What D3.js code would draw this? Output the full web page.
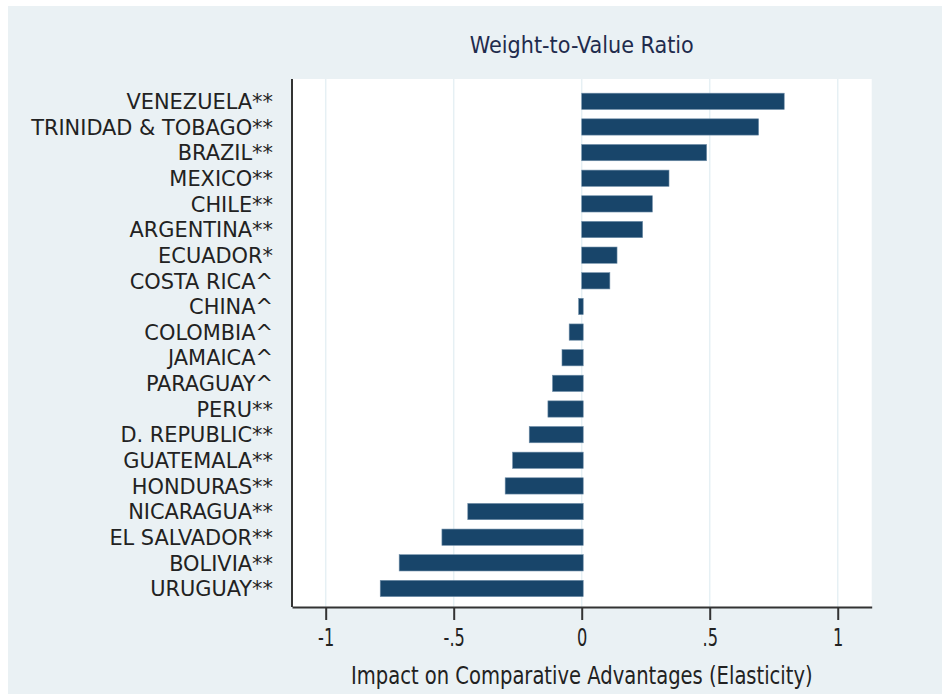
<!DOCTYPE html>
<html><head><meta charset="utf-8">
<script src="https://cdn.jsdelivr.net/npm/d3@7/dist/d3.min.js"></script>
<style>
html,body{margin:0;padding:0;background:#fff;}
svg{display:block;}
text{font-family:"Liberation Sans Narrow","DejaVu Sans Condensed","Liberation Sans",Arial,sans-serif;}
</style></head>
<body>
<svg id="chart" width="942" height="694"></svg>
<script>
const categories = ["VENEZUELA**","TRINIDAD & TOBAGO**","BRAZIL**","MEXICO**","CHILE**","ARGENTINA**","ECUADOR*","COSTA RICA^","CHINA^","COLOMBIA^","JAMAICA^","PARAGUAY^","PERU**","D. REPUBLIC**","GUATEMALA**","HONDURAS**","NICARAGUA**","EL SALVADOR**","BOLIVIA**","URUGUAY**"];
const values = [0.791,0.691,0.488,0.341,0.276,0.238,0.138,0.110,-0.012,-0.049,-0.077,-0.114,-0.132,-0.205,-0.270,-0.299,-0.445,-0.546,-0.713,-0.787];
const xTicks = [-1,-0.5,0,0.5,1];
const xTickLabels = ["-1","-.5","0",".5","1"];
const title = "Weight-to-Value Ratio";
const xTitle = "Impact on Comparative Advantages (Elasticity)";

const svg = d3.select("#chart");
const L = 292, R = 871.7, T = 79, B = 607;

svg.append("rect").attr("x",8).attr("y",6).attr("width",934).attr("height",688).attr("fill","#eaf1f4");
svg.append("rect").attr("x",L).attr("y",T).attr("width",R-L).attr("height",B-T).attr("fill","#ffffff");

const x = d3.scaleLinear().domain([-1.1316,1.1327]).range([L,R]);
const y = d3.scaleBand().domain(categories).range([88.5,601.3]).paddingInner(0.365).paddingOuter(0.1825);

// gridlines
svg.append("g").selectAll("line").data(xTicks).join("line")
  .attr("x1",d=>x(d)).attr("x2",d=>x(d)).attr("y1",T).attr("y2",B)
  .attr("stroke","#e6f0f4").attr("stroke-width",1.5);

// bars
svg.append("g").selectAll("rect").data(values).join("rect")
  .attr("x",d=>x(Math.min(0,d))).attr("width",d=>Math.abs(x(d)-x(0)) + (d<0?1.5:0))
  .attr("y",(d,i)=>y(categories[i])).attr("height",y.bandwidth())
  .attr("fill","#18456a").attr("stroke","#6f8ea8").attr("stroke-width",0.6);

// axes
const xAxis = d3.axisBottom(x).tickValues(xTicks).tickFormat((d,i)=>xTickLabels[i]).tickSize(13).tickPadding(8).tickSizeOuter(0);
const gx = svg.append("g").attr("transform",`translate(0,${B})`).call(xAxis);
gx.attr("font-family",null);
gx.select(".domain").attr("stroke","#333").attr("stroke-width",2);
gx.selectAll(".tick line").attr("stroke","#333").attr("stroke-width",2);
gx.selectAll(".tick text").attr("font-size",25).attr("fill","#222");

const yAxis = d3.axisLeft(y).tickSize(0).tickPadding(19);
const gy = svg.append("g").attr("transform",`translate(${L},0)`).call(yAxis);
gy.attr("font-family",null);
gy.select(".domain").attr("stroke","#333").attr("stroke-width",2).attr("d",`M0,${T}V${B}`);
gy.selectAll(".tick text").attr("font-size",21.5).attr("fill","#222").attr("dy","0.36em");

// horizontal condense to match the narrow face of the reference
function condense(sel, s){
  sel.each(function(){
    const t = d3.select(this);
    const ax = +(t.attr("x")||0);
    t.attr("transform", `translate(${ax*(1-s)},0) scale(${s},1)`);
  });
}
const refW = gy.selectAll(".tick text").nodes()[1].getComputedTextLength();
condense(gy.selectAll(".tick text"), 242/refW);
condense(gx.selectAll(".tick text"), 0.72);

svg.append("text").attr("x",(L+R)/2).attr("y",53).attr("text-anchor","middle")
  .attr("font-size",23).attr("fill","#1f2b4d").text(title).attr("class","ttl");
svg.append("text").attr("x",(L+R)/2).attr("y",684).attr("text-anchor","middle")
  .attr("font-size",24).attr("fill","#222").text(xTitle).attr("class","xt");
[[".ttl",224],[".xt",462]].forEach(([c,tw])=>{
  const t = svg.select(c); const w = t.node().getComputedTextLength();
  condense(t, tw/w);
});
</script>
</body></html>
